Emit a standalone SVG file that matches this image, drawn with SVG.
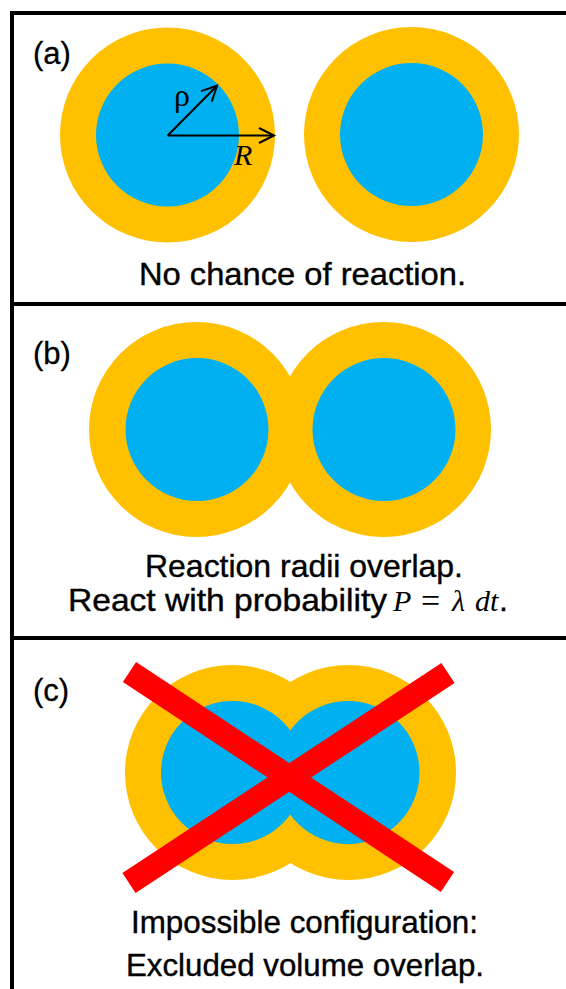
<svg xmlns="http://www.w3.org/2000/svg" width="566" height="989" viewBox="0 0 566 989">
<style>
.frame{stroke:#000;stroke-width:4;fill:none}
.outer{fill:#FFC000}
.inner{fill:#00B0F0}
.lbl{font-family:"Liberation Sans",Arial,sans-serif;font-size:31px;fill:#000;stroke:#000;stroke-width:0.3}
.cap{font-family:"Liberation Sans",Arial,sans-serif;font-size:32px;fill:#000;stroke:#000;stroke-width:0.4}
.math{font-family:"Liberation Serif","Times New Roman",serif;font-style:italic;fill:#000}
.arr{stroke:#000;stroke-width:2;fill:none}
.cross{stroke:#FF0000;stroke-width:24;stroke-linecap:butt}
</style>
<defs>
<marker id="vhead" markerUnits="userSpaceOnUse" viewBox="-17 -10 20 20" refX="0" refY="0" markerWidth="20" markerHeight="20" orient="auto">
<path d="M-15,-7.5 L0,0 L-15,7.5" stroke="#000" stroke-width="2" fill="none"/>
</marker>
</defs>
<rect width="566" height="989" fill="#fff"/>
<g id="frame">
<line class="frame" x1="10" y1="13" x2="566" y2="13"/>
<line class="frame" x1="12" y1="11" x2="12" y2="989"/>
<line class="frame" x1="12" y1="304" x2="566" y2="304"/>
<line class="frame" x1="12" y1="638" x2="566" y2="638"/>
</g>
<g id="panel-a">
<text class="lbl" x="33" y="64">(a)</text>
<g id="a-left">
<circle class="outer" cx="167.5" cy="135" r="107.5"/>
<circle class="inner" cx="167.5" cy="135" r="71.5"/>
</g>
<g id="a-right">
<circle class="outer" cx="411.5" cy="134.5" r="107.5"/>
<circle class="inner" cx="411.5" cy="134.5" r="71.5"/>
</g>
<text class="cap" x="139" y="285" textLength="327" lengthAdjust="spacingAndGlyphs">No chance of reaction.</text>
</g>
<g id="connectors">
<line class="arr" x1="167.7" y1="135.5" x2="274" y2="135.5" marker-end="url(#vhead)"/>
<line class="arr" x1="167.7" y1="135.5" x2="217" y2="85.7" marker-end="url(#vhead)"/>
</g>
<g id="arrow-labels">
<text x="174" y="106" font-family="Liberation Serif,serif" font-size="32" fill="#000">ρ</text>
<text class="math" x="234" y="165" font-size="30">R</text>
</g>
<g id="panel-b">
<text class="lbl" x="33" y="364">(b)</text>
<g id="b-left-outer"><circle class="outer" cx="196.5" cy="429.5" r="107.5"/></g>
<g id="b-right-outer"><circle class="outer" cx="383.5" cy="429.5" r="107.5"/></g>
<g id="b-left-inner"><circle class="inner" cx="197" cy="429.5" r="71.5"/></g>
<g id="b-right-inner"><circle class="inner" cx="384" cy="429.5" r="71.5"/></g>
<text class="cap" x="145" y="577" textLength="318" lengthAdjust="spacingAndGlyphs">Reaction radii overlap.</text>
<text class="cap" x="68" y="611" textLength="319" lengthAdjust="spacingAndGlyphs">React with probability</text>
<text class="math" font-size="30" x="393" y="611">P</text>
<text font-family="Liberation Serif,serif" font-size="34" x="421" y="612" fill="#000">=</text>
<text class="math" font-size="30" x="452" y="611">λ</text>
<text class="math" font-size="30" x="475" y="611">dt</text>
<text class="cap" x="499" y="611">.</text>
</g>
<g id="panel-c">
<text class="lbl" x="33" y="701">(c)</text>
<circle class="outer" cx="232.5" cy="772.5" r="107.5"/>
<circle class="outer" cx="348.5" cy="772.5" r="107.5"/>
<circle class="inner" cx="232.5" cy="772.5" r="71.5"/>
<circle class="inner" cx="348" cy="772.5" r="71.5"/>
<line class="cross" x1="129.5" y1="672" x2="447.5" y2="882"/>
<line class="cross" x1="448" y1="673" x2="129" y2="883"/>
<text class="cap" x="131" y="933" textLength="347" lengthAdjust="spacingAndGlyphs">Impossible configuration:</text>
<text class="cap" x="126" y="976" textLength="358" lengthAdjust="spacingAndGlyphs">Excluded volume overlap.</text>
</g>
</svg>
